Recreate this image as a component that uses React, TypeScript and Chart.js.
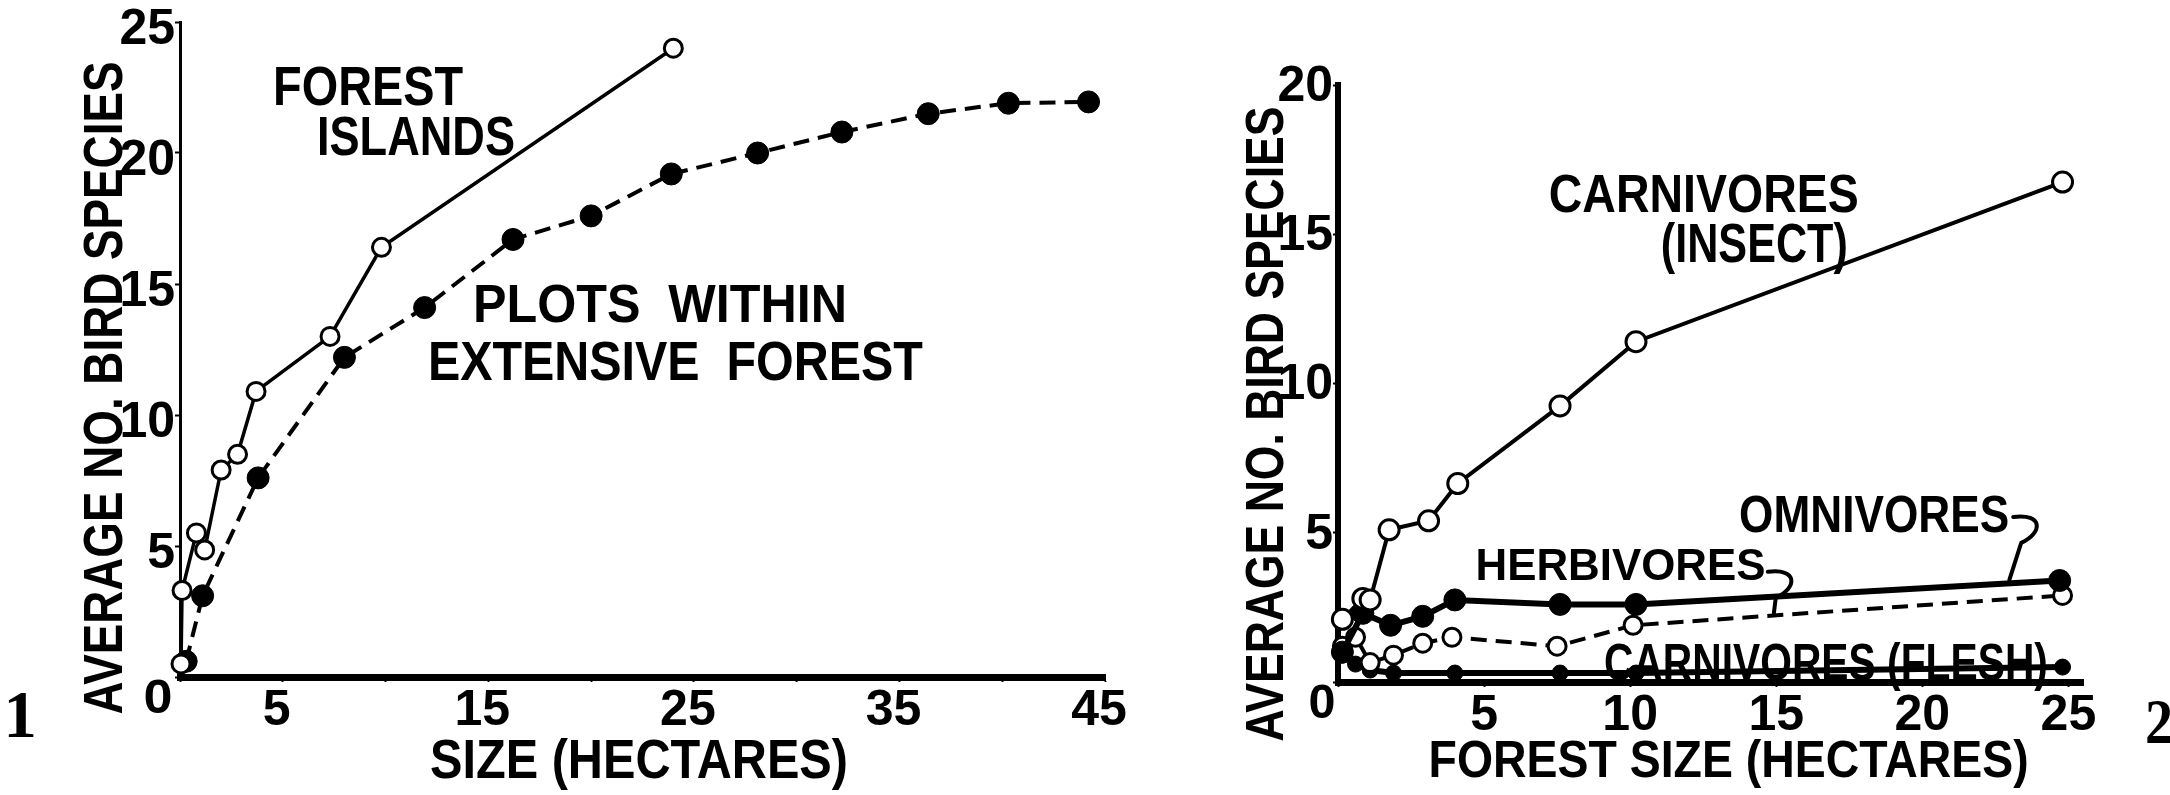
import React, { useEffect, useRef } from 'react';
import { Chart, registerables } from 'chart.js';

Chart.register(...registerables);

// ---------- Figure 1: species vs. size ----------
const islandSize = [0.05, 0.1, 0.8, 1.2, 2.0, 2.8, 3.7, 7.3, 9.8, 24.0];
const islandSpecies = [0.5, 3.3, 5.5, 4.85, 7.9, 8.5, 10.9, 13.0, 16.4, 24.0];
const plotSize = [0.3, 1.1, 3.8, 8.0, 11.9, 16.2, 20.0, 23.9, 28.1, 32.2, 36.4, 40.3, 44.2];
const plotSpecies = [0.6, 3.1, 7.6, 12.2, 14.1, 16.7, 17.6, 19.2, 20.0, 20.8, 21.5, 21.9, 21.95];
const fig1XTickMarks = [0, 5, 10, 15, 20, 25, 30, 35, 40, 45];
const fig1XTickLabels = [5, 15, 25, 35, 45];
const fig1YTickMarks = [0, 5, 10, 15, 20, 25];
const fig1YTickLabels = [5, 10, 15, 20, 25];

// ---------- Figure 2: feeding guilds vs. forest size ----------
const insectSize = [0.15, 0.85, 1.1, 1.75, 3.1, 4.1, 7.6, 10.2, 24.8];
const insectSpecies = [2.1, 2.8, 2.75, 5.1, 5.4, 6.65, 9.25, 11.4, 16.75];
const omniSize = [0.15, 0.85, 1.8, 2.9, 4.0, 7.6, 10.2, 24.7];
const omniSpecies = [1.0, 2.3, 1.9, 2.2, 2.75, 2.6, 2.6, 3.4];
const herbSize = [0.15, 0.6, 1.1, 1.9, 2.9, 3.9, 7.5, 10.1, 24.8];
const herbSpecies = [1.2, 1.5, 0.65, 0.9, 1.3, 1.5, 1.2, 1.9, 2.9];
const fleshSize = [0.15, 0.6, 1.1, 1.9, 4.0, 7.6, 10.2, 24.8];
const fleshSpecies = [0.9, 0.6, 0.4, 0.3, 0.3, 0.3, 0.3, 0.5];
const fig2XTickMarks = [0, 5, 10, 15, 20, 25];
const fig2XTickLabels = [5, 10, 15, 20, 25];
const fig2YTickMarks = [0, 5, 10, 15, 20];
const fig2YTickLabels = [5, 10, 15, 20];

// ---------- Text labels (anchored in data units) ----------
type Note = { text: string; x: number; y: number; cap: number; width?: number; rotate?: boolean; serif?: boolean };
type Hook = { from: [number, number]; to: [number, number] };

const fig1Notes: Note[] = [
  { text: 'FOREST', x: 9.15, y: 21.83, cap: 40, width: 190 },
  { text: 'ISLANDS', x: 11.48, y: 19.92, cap: 40, width: 198 },
  { text: 'PLOTS  WITHIN', x: 23.35, y: 13.55, cap: 39, width: 374 },
  { text: 'EXTENSIVE  FOREST', x: 24.1, y: 11.34, cap: 40, width: 495 },
  { text: 'SIZE (HECTARES)', x: 22.33, y: -3.85, cap: 40, width: 418 },
  { text: 'AVERAGE NO. BIRD SPECIES', x: -2.82, y: 11.03, cap: 40, width: 653, rotate: true },
  { text: '0', x: -1.07, y: -1.37, cap: 35, width: 29 },
  { text: '1', x: -7.78, y: -2.29, cap: 44, serif: true },
];
const fig1Hooks: Hook[] = [];

const fig2Notes: Note[] = [
  { text: 'CARNIVORES', x: 12.52, y: 15.75, cap: 39, width: 310 },
  { text: '(INSECT)', x: 14.25, y: 14.07, cap: 40, width: 187 },
  { text: 'HERBIVORES', x: 9.67, y: 3.42, cap: 32, width: 290 },
  { text: 'OMNIVORES', x: 18.35, y: 5.03, cap: 37, width: 270 },
  { text: 'CARNIVORES (FLESH)', x: 16.7, y: 0.07, cap: 37, width: 444 },
  { text: 'FOREST SIZE (HECTARES)', x: 13.37, y: -3.18, cap: 37, width: 600 },
  { text: 'AVERAGE NO. BIRD SPECIES', x: -1.89, y: 8.64, cap: 38, width: 635, rotate: true },
  { text: '0', x: -0.55, y: -1.2, cap: 35, width: 27 },
  { text: '2', x: 28.1, y: -2.04, cap: 42, width: 28, serif: true },
];
const fig2Hooks: Hook[] = [
  { from: [14.71, 3.69], to: [14.92, 2.31] },
  { from: [23.11, 5.53], to: [22.98, 3.42] },
];

const SANS = '"Liberation Sans", Arial, sans-serif';
const SERIF = '"Liberation Serif", "Times New Roman", serif';

function notesPlugin(notes: Note[], hooks: Hook[]) {
  return {
    id: 'notes',
    afterDatasetsDraw(chart: any) {
      const { ctx, scales } = chart;
      const xs = scales.x;
      const ys = scales.y;
      ctx.save();
      ctx.fillStyle = '#000';
      ctx.strokeStyle = '#000';
      for (const n of notes) {
        const px = xs.getPixelForValue(n.x);
        const py = ys.getPixelForValue(n.y);
        const size = n.cap / (n.serif ? 0.66 : 0.716);
        ctx.font = `bold ${size}px ${n.serif ? SERIF : SANS}`;
        const w = ctx.measureText(n.text).width;
        const sx = n.width ? n.width / w : 1;
        ctx.save();
        ctx.translate(px, py);
        if (n.rotate) ctx.rotate(-Math.PI / 2);
        ctx.scale(sx, 1);
        ctx.textAlign = 'center';
        ctx.textBaseline = 'alphabetic';
        ctx.fillText(n.text, 0, 0);
        ctx.restore();
      }
      ctx.lineWidth = 4;
      ctx.lineCap = 'round';
      for (const h of hooks) {
        const fx = xs.getPixelForValue(h.from[0]);
        const fy = ys.getPixelForValue(h.from[1]);
        const tx = xs.getPixelForValue(h.to[0]);
        const ty = ys.getPixelForValue(h.to[1]);
        ctx.beginPath();
        ctx.moveTo(fx, fy);
        ctx.bezierCurveTo(fx + 30, fy - 4, fx + 30, fy + 16, fx + 8, fy + 26);
        ctx.lineTo(tx, ty);
        ctx.stroke();
      }
      ctx.restore();
    },
  };
}

const pts = (xs: number[], ys: number[]) => xs.map((x, i) => ({ x, y: ys[i] }));

function openSeries(label: string, xs: number[], ys: number[], dashed: boolean, r: number, lw: number) {
  return {
    label,
    data: pts(xs, ys),
    showLine: true,
    borderColor: '#000',
    borderWidth: lw,
    borderDash: dashed ? [16, 9] : [],
    tension: 0,
    pointRadius: r,
    pointBorderWidth: 3,
    pointBackgroundColor: '#fff',
    pointBorderColor: '#000',
    clip: false,
  };
}

function filledSeries(label: string, xs: number[], ys: number[], dashed: boolean, r: number, lw: number) {
  return {
    label,
    data: pts(xs, ys),
    showLine: true,
    borderColor: '#000',
    borderWidth: lw,
    borderDash: dashed ? [16, 9] : [],
    tension: 0,
    pointRadius: r,
    pointBorderWidth: 1,
    pointBackgroundColor: '#000',
    pointBorderColor: '#000',
    clip: false,
  };
}

type PanelOpts = {
  xMax: number;
  yMax: number;
  xMarks: number[];
  xLabels: number[];
  yMarks: number[];
  yLabels: number[];
  top: number;
  right: number;
  yAxisWidth: number;
  xAxisHeight: number;
  yBorder: number;
  xBorder: number;
  yLabelOffset: number;
  xLabelOffset: number;
};

function makeConfig(datasets: any[], o: PanelOpts, plugin: any): any {
  const tickFont = { family: SANS, size: 50, weight: 'bold' as const, lineHeight: 1 };
  return {
    type: 'scatter',
    data: { datasets },
    plugins: [plugin],
    options: {
      animation: false,
      responsive: false,
      devicePixelRatio: 1,
      layout: { padding: { left: 0, top: o.top, right: o.right, bottom: 0 } },
      plugins: { legend: { display: false }, tooltip: { enabled: false }, title: { display: false } },
      scales: {
        x: {
          type: 'linear',
          min: 0,
          max: o.xMax,
          afterBuildTicks: (s: any) => {
            s.ticks = o.xMarks.map((v) => ({ value: v }));
          },
          afterFit: (s: any) => {
            s.height = o.xAxisHeight;
            s.paddingLeft = 0;
            s.paddingRight = 0;
          },
          border: { display: true, color: '#000', width: o.xBorder },
          grid: { display: true, drawOnChartArea: false, drawTicks: true, tickLength: 5, tickWidth: 2, tickColor: '#000', color: '#000' },
          ticks: {
            autoSkip: false,
            maxRotation: 0,
            color: '#000',
            padding: 4,
            labelOffset: o.xLabelOffset,
            font: tickFont,
            callback: (v: any) => (o.xLabels.includes(Number(v)) ? String(v) : ''),
          },
        },
        y: {
          type: 'linear',
          min: 0,
          max: o.yMax,
          afterBuildTicks: (s: any) => {
            s.ticks = o.yMarks.map((v) => ({ value: v }));
          },
          afterFit: (s: any) => {
            s.width = o.yAxisWidth;
            s.paddingTop = 0;
            s.paddingBottom = 0;
          },
          border: { display: true, color: '#000', width: o.yBorder },
          grid: { display: true, drawOnChartArea: false, drawTicks: true, tickLength: 5, tickWidth: 2, tickColor: '#000', color: '#000' },
          ticks: {
            autoSkip: false,
            color: '#000',
            padding: 0,
            labelOffset: o.yLabelOffset,
            font: tickFont,
            callback: (v: any) => (o.yLabels.includes(Number(v)) ? String(v) : ''),
          },
        },
      },
    },
  };
}

export default function App() {
  const leftRef = useRef<HTMLCanvasElement | null>(null);
  const rightRef = useRef<HTMLCanvasElement | null>(null);

  useEffect(() => {
    if (!leftRef.current || !rightRef.current) return;

    const left = new Chart(
      leftRef.current,
      makeConfig(
        [
          openSeries('Forest islands', islandSize, islandSpecies, false, 9, 3.5),
          filledSeries('Plots within extensive forest', plotSize, plotSpecies, true, 11, 4),
        ],
        {
          xMax: 45,
          yMax: 25,
          xMarks: fig1XTickMarks,
          xLabels: fig1XTickLabels,
          yMarks: fig1YTickMarks,
          yLabels: fig1YTickLabels,
          top: 22,
          right: 45,
          yAxisWidth: 180,
          xAxisHeight: 118,
          yBorder: 3,
          xBorder: 7,
          yLabelOffset: 8,
          xLabelOffset: -6,
        },
        notesPlugin(fig1Notes, fig1Hooks)
      )
    );

    const right = new Chart(
      rightRef.current,
      makeConfig(
        [
          openSeries('Carnivores (insect)', insectSize, insectSpecies, false, 10, 4),
          filledSeries('Omnivores', omniSize, omniSpecies, false, 11, 6),
          openSeries('Herbivores', herbSize, herbSpecies, true, 9, 4),
          filledSeries('Carnivores (flesh)', fleshSize, fleshSpecies, false, 8, 6),
        ],
        {
          xMax: 25.5,
          yMax: 20,
          xMarks: fig2XTickMarks,
          xLabels: fig2XTickLabels,
          yMarks: fig2YTickMarks,
          yLabels: fig2YTickLabels,
          top: 85,
          right: 87,
          yAxisWidth: 188,
          xAxisHeight: 113,
          yBorder: 6,
          xBorder: 7,
          yLabelOffset: 2,
          xLabelOffset: 0,
        },
        notesPlugin(fig2Notes, fig2Hooks)
      )
    );

    return () => {
      left.destroy();
      right.destroy();
    };
  }, []);

  return (
    <div style={{ position: 'absolute', left: 0, top: 0, width: 2170, height: 795, background: '#fff' }}>
      <canvas
        ref={leftRef}
        width={1150}
        height={795}
        style={{ position: 'absolute', left: 0, top: 0, width: 1150, height: 795 }}
      />
      <canvas
        ref={rightRef}
        width={1020}
        height={795}
        style={{ position: 'absolute', left: 1150, top: 0, width: 1020, height: 795 }}
      />
    </div>
  );
}
